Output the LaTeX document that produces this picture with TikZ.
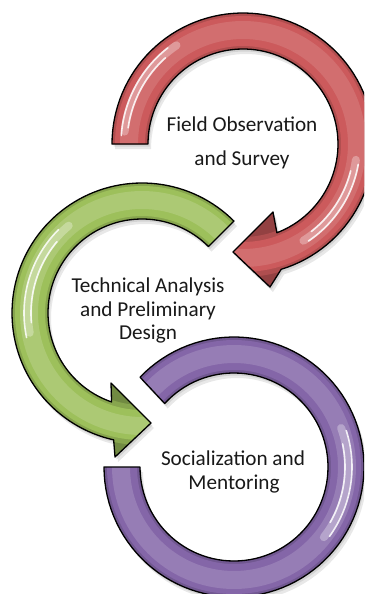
\documentclass[tikz,border=0pt]{standalone}
\usepackage{fontspec}
\setmainfont{Carlito}
\definecolor{redc}{HTML}{CC5A5C}
\definecolor{greenc}{HTML}{9DC05B}
\definecolor{purc}{HTML}{8466A8}
\newcommand\arcpts[5]{plot[domain=#3:#4,samples=90,variable=\t] ({#1+#5*cos(\t)},{#2+#5*sin(\t)})}
\newcommand\redshape{plot[domain=180:433.05,samples=90,variable=\t] ({243+131*cos(\t)},{144+131*sin(\t)}) -- (270,287) -- (233,252) -- (273,212) -- plot[domain=429.1:180,samples=90,variable=\t] ({243+95*cos(\t)},{144+95*sin(\t)}) -- cycle}
\newcommand\greenshape{plot[domain=-45:-257.4,samples=90,variable=\t] ({142+130*cos(\t)},{313+130*sin(\t)}) -- (115,457) -- (151,423) -- (111,383) -- plot[domain=-251.1:-45,samples=90,variable=\t] ({142+94*cos(\t)},{313+94*sin(\t)}) -- cycle}
\newcommand\purshape{plot[domain=180:-136.3,samples=100,variable=\t] ({234+130*cos(\t)},{467+130*sin(\t)}) -- plot[domain=-137.5:180,samples=100,variable=\t] ({234+94*cos(\t)},{467+94*sin(\t)}) -- cycle}
\tikzset{
  ringline/.style={draw=black, line width=1.3pt, line join=round},
  softshadow/.style={fill=black, opacity=0.09},
  gloss/.style={draw=white, line cap=round},
  lbl/.style={font=\fontsize{21.2}{24}\selectfont, text=black!90, inner sep=0pt, anchor=base},
}
\begin{document}
\begin{tikzpicture}[x=1pt,y=1pt,yscale=-1]
\useasboundingbox (0,0) rectangle (364,594);
\fill[white] (0,0) rectangle (364,594);
\clip (0,0) rectangle (364,594);
% shadows
\foreach \dx/\dy in {1.5/2.5,3/5}{
  \fill[softshadow, shift={(\dx,\dy)}] \redshape;
  \fill[softshadow, shift={(\dx,\dy)}] \greenshape;
  \fill[softshadow, shift={(\dx,\dy)}] \purshape;
}
% red arrow
\fill[redc!72!black] \redshape;
\begin{scope}
  \clip \redshape;
  \draw[line width=40pt, redc!86!black] (243,144) circle[radius=113];
  \draw[line width=30pt, redc] (243,144) circle[radius=113];
  \draw[line width=18pt, redc!88!white] (243,144) circle[radius=114];
  \draw[gloss, opacity=.3, line width=8pt] \arcpts{243}{144}{186}{236}{119};
  \draw[gloss, opacity=.85, line width=1.6pt] \arcpts{243}{144}{184}{232}{122};
  \draw[gloss, opacity=.85, line width=1.6pt] \arcpts{243}{144}{188}{228}{116};
  \draw[gloss, opacity=.3, line width=8pt] \arcpts{243}{144}{8}{58}{114};
  \draw[gloss, opacity=.85, line width=1.6pt] \arcpts{243}{144}{10}{56}{117};
  \draw[gloss, opacity=.85, line width=1.6pt] \arcpts{243}{144}{14}{52}{111};
\end{scope}
\draw[ringline] \redshape;
% green arrow
\fill[greenc!72!black] \greenshape;
\begin{scope}
  \clip \greenshape;
  \draw[line width=40pt, greenc!86!black] (142,313) circle[radius=112];
  \draw[line width=30pt, greenc] (142,313) circle[radius=112];
  \draw[line width=18pt, greenc!85!white] (142,313) circle[radius=113];
  \draw[gloss, opacity=.3, line width=8pt] \arcpts{142}{313}{-130}{-190}{114};
  \draw[gloss, opacity=.85, line width=1.6pt] \arcpts{142}{313}{-135}{-192}{118};
  \draw[gloss, opacity=.85, line width=1.6pt] \arcpts{142}{313}{-140}{-185}{111};
\end{scope}
\draw[ringline] \greenshape;
% purple ring
\fill[purc!72!black] \purshape;
\begin{scope}
  \clip \purshape;
  \draw[line width=40pt, purc!86!black] (234,467) circle[radius=112];
  \draw[line width=30pt, purc] (234,467) circle[radius=112];
  \draw[line width=18pt, purc!85!white] (234,467) circle[radius=113];
  \draw[gloss, opacity=.3, line width=8pt] \arcpts{234}{467}{-20}{38}{114};
  \draw[gloss, opacity=.85, line width=1.6pt] \arcpts{234}{467}{-18}{36}{118};
  \draw[gloss, opacity=.85, line width=1.6pt] \arcpts{234}{467}{-12}{30}{111};
\end{scope}
\draw[ringline] \purshape;
% labels
\node[lbl] (f1) at (242,131.5) {Field Observation};
\node[lbl] (f2) at (242,165) {and Survey};
\node[lbl] (t1) at (148,292) {Technical Analysis};
\node[lbl] (t2) at (148,316) {and Preliminary};
\node[lbl] (t3) at (148,339) {Design};
\node[lbl] (s1) at (233,465) {Socialization and};
\node[lbl] (s2) at (234,489) {Mentoring};
\end{tikzpicture}
\end{document}
